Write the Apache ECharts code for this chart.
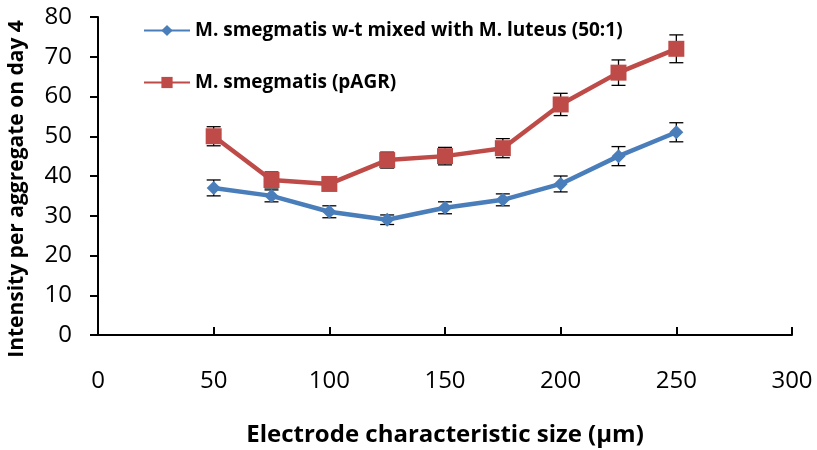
<!DOCTYPE html>
<html><head><meta charset="utf-8">
<script src="https://cdn.jsdelivr.net/npm/echarts@6/dist/echarts.min.js"></script>
<style>html,body{margin:0;padding:0;background:#fff}#c{width:817px;height:450px}</style>
</head><body><div id="c"></div>
<script>
const sizes = [50, 75, 100, 125, 150, 175, 200, 225, 250];
const mixedName = 'M. smegmatis w-t mixed with M. luteus (50:1)';
const mixedVals = [37, 35, 31, 29, 32, 34, 38, 45, 51];
const mixedErr = [2, 1.5, 1.5, 1.2, 1.5, 1.5, 2, 2.4, 2.4];
const pagrName = 'M. smegmatis (pAGR)';
const pagrVals = [50, 39, 38, 44, 45, 47, 58, 66, 72];
const pagrErr = [2.4, 2, 1.5, 2, 2.2, 2.4, 2.8, 3.2, 3.5];
const xTicks = [0, 50, 100, 150, 200, 250, 300];
const yTicks = [0, 10, 20, 30, 40, 50, 60, 70, 80];

const blue = '#4A7EBB', red = '#BE4B48';
const font = 'Open Sans, Noto Sans, sans-serif';

function errData(vals, errs){
  return sizes.map((x,i)=>[x, vals[i]-errs[i], vals[i]+errs[i]]);
}
function errSeries(vals, errs){
  return {
    type:'custom', silent:true, z:1,
    data: errData(vals, errs),
    renderItem(params, api){
      const x = api.value(0);
      const lo = api.coord([x, api.value(1)]);
      const hi = api.coord([x, api.value(2)]);
      const w = 7;
      const st = {stroke:'#000', lineWidth:1.3};
      return {type:'group', children:[
        {type:'line', shape:{x1:lo[0],y1:lo[1],x2:hi[0],y2:hi[1]}, style:st},
        {type:'line', shape:{x1:lo[0]-w,y1:lo[1],x2:lo[0]+w,y2:lo[1]}, style:st},
        {type:'line', shape:{x1:hi[0]-w,y1:hi[1],x2:hi[0]+w,y2:hi[1]}, style:st}
      ]};
    }
  };
}

const chart = echarts.init(document.getElementById('c'));
chart.setOption({
  animation:false,
  backgroundColor:'#fff',
  grid:{left:98, right:25, top:17, bottom:115, containLabel:false, outerBoundsMode:'none'},
  legend:{
    orient:'vertical', left:138, top:16, itemGap:33,
    itemWidth:46, itemHeight:14,
    textStyle:{fontFamily:font, fontWeight:'bold', fontSize:19, color:'#000'},
    data:[mixedName, pagrName]
  },
  xAxis:{
    type:'value', min:0, max:300, interval:50,
    axisLine:{lineStyle:{color:'#000', width:2}},
    axisTick:{inside:true, length:8, lineStyle:{color:'#000', width:2}},
    splitLine:{show:false},
    axisLabel:{fontFamily:font, fontSize:24, color:'#000', margin:34,
      formatter:v=>xTicks.includes(v)?String(v):''},
    name:'Electrode characteristic size (\u00b5m)', nameLocation:'middle', nameGap:88,
    nameTextStyle:{fontFamily:font, fontWeight:'bold', fontSize:24, color:'#000'}
  },
  yAxis:{
    type:'value', min:0, max:80, interval:10,
    axisLine:{show:true, lineStyle:{color:'#000', width:2}},
    axisTick:{show:true, length:8, lineStyle:{color:'#000', width:2}},
    splitLine:{show:false},
    axisLabel:{fontFamily:font, fontSize:24, color:'#000', margin:26,
      formatter:v=>yTicks.includes(v)?String(v):''},
    name:'Intensity per aggregate on day 4', nameLocation:'middle', nameGap:70,
    nameTextStyle:{fontFamily:font, fontWeight:'bold', fontSize:21, color:'#000', padding:[0,26,0,0]}
  },
  series:[
    errSeries(mixedVals, mixedErr),
    errSeries(pagrVals, pagrErr),
    {name:mixedName, type:'line', z:3, data:sizes.map((x,i)=>[x,mixedVals[i]]),
     symbol:'diamond', symbolSize:14, color:blue,
     lineStyle:{color:blue, width:4.5}, itemStyle:{color:blue}},
    {name:pagrName, type:'line', z:3, data:sizes.map((x,i)=>[x,pagrVals[i]]),
     symbol:'rect', symbolSize:16, color:red,
     lineStyle:{color:red, width:4.5}, itemStyle:{color:red}}
  ]
});
</script></body></html>
